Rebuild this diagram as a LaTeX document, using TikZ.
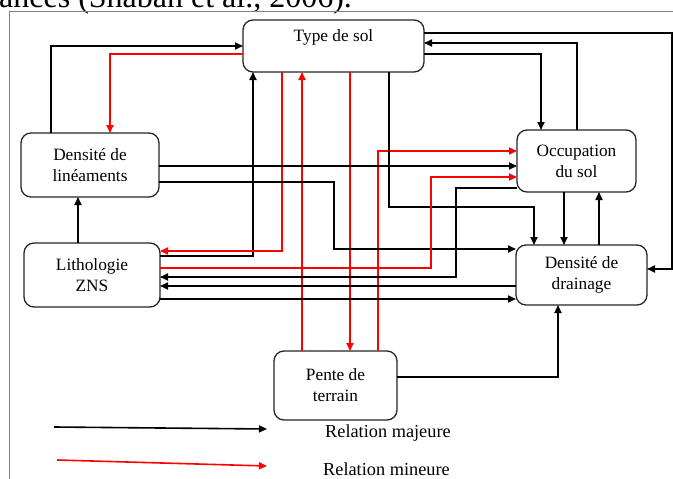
\documentclass[tikz,border=0pt]{standalone}
\usepackage{fontspec}
\setmainfont{Liberation Serif}
\usetikzlibrary{arrows.meta}
\begin{document}
\begin{tikzpicture}[x=1pt,y=-1pt,
  box/.style={draw=black!85, line width=1.3pt, rounded corners=10pt, inner sep=0pt, outer sep=0pt, align=center, font=\fontsize{17.3}{21}\selectfont},
  maj/.style={draw=black, line width=1.8pt, -{Triangle[length=8pt,width=7pt]}},
  mnr/.style={draw=red, line width=1.8pt, -{Triangle[length=8pt,width=7pt]}},
  lbl/.style={font=\fontsize{17.3}{21}\selectfont, inner sep=0pt},
  leg/.style={font=\fontsize{18.3}{22}\selectfont, inner sep=0pt}]
\useasboundingbox (0,0) rectangle (673,479);
\fill[white] (0,0) rectangle (673,479);
\node[anchor=base west, inner sep=0pt, font=\fontsize{32}{36}\selectfont] (top) at (-1,7) {ances (Shaban et al., 2006).};
\draw[black!50, line width=1pt] (9.5,479) -- (9.5,11) -- (673,11);

% boxes
\node[box, minimum width=181pt, minimum height=52pt] (T) at (333.5,46) {};
\node[lbl] (Tt) at (333.5,37) {Type de sol};
\node[box, minimum width=138pt, minimum height=64pt] (DL) at (90,165) {Densité de\\linéaments};
\node[box, minimum width=136pt, minimum height=64pt] (L) at (92,275) {Lithologie\\ZNS};
\node[box, minimum width=119pt, minimum height=62pt] (O) at (576.5,161) {Occupation\\du sol};
\node[box, minimum width=131pt, minimum height=60pt] (DD) at (581.5,275) {Densité de\\drainage};
\node[box, minimum width=123pt, minimum height=69pt] (P) at (335.5,385.5) {Pente de\\terrain};

% connectors
\draw[maj] (51,0 |- DL.north) |- (T.west |- 0,46);
\draw[mnr] (T.west |- 0,54) -| (110,0 |- DL.north);
\draw[maj] (L.east |- 0,256) -| (253,0 |- T.south);
\draw[mnr] (282,0 |- T.south) |- (L.east |- 0,251);
\draw[mnr] (302,0 |- P.north) -- (302,0 |- T.south);
\draw[mnr] (350,0 |- T.south) -- (350,0 |- P.north);
\draw[mnr] (378,0 |- P.north) |- (O.west |- 0,151);
\coordinate (c1) at (534,207);
\draw[maj] (389,0 |- T.south) |- (c1) -- (534,0 |- DD.north);
\coordinate (c2) at (672,269);
\draw[maj] (T.east |- 0,33) -| (c2) -- (DD.east |- 0,269);
\draw[maj] (577,0 |- O.north) |- (T.east |- 0,43);
\draw[maj] (T.east |- 0,54) -| (541,0 |- O.north);
\draw[maj] (DL.east |- 0,166) -- (O.west |- 0,166);
\coordinate (c3) at (334,249);
\draw[maj] (DL.east |- 0,182) -| (c3) -- (DD.west |- 0,249);
\draw[maj] (78,0 |- L.north) -- (78,0 |- DL.south);
\coordinate (c4) at (431,177);
\draw[mnr] (L.east |- 0,268) -| (c4) -- (O.west |- 0,177);
\coordinate (c5) at (456,277);
\draw[maj] (O.west |- 0,188) -| (c5) -- (L.east |- 0,277);
\draw[maj] (DD.west |- 0,286) -- (L.east |- 0,286);
\draw[maj] (L.east |- 0,299) -- (DD.west |- 0,299);
\draw[maj] (564,0 |- O.south) -- (564,0 |- DD.north);
\draw[maj] (599,0 |- DD.north) -- (599,0 |- O.south);
\draw[maj] (P.east |- 0,377) -| (558,0 |- DD.south);

% legend
\coordinate (a1) at (54,427);
\coordinate (a2) at (267,429);
\draw[maj, line width=1.6pt] (a1) -- (a2);
\node[leg, anchor=base west] (t1) at (325,437) {Relation majeure};
\coordinate (b1) at (57,460);
\coordinate (b2) at (267,466);
\draw[mnr, line width=1.6pt] (b1) -- (b2);
\node[leg, anchor=base west] (t2) at (323,475) {Relation mineure};
\end{tikzpicture}
\end{document}
